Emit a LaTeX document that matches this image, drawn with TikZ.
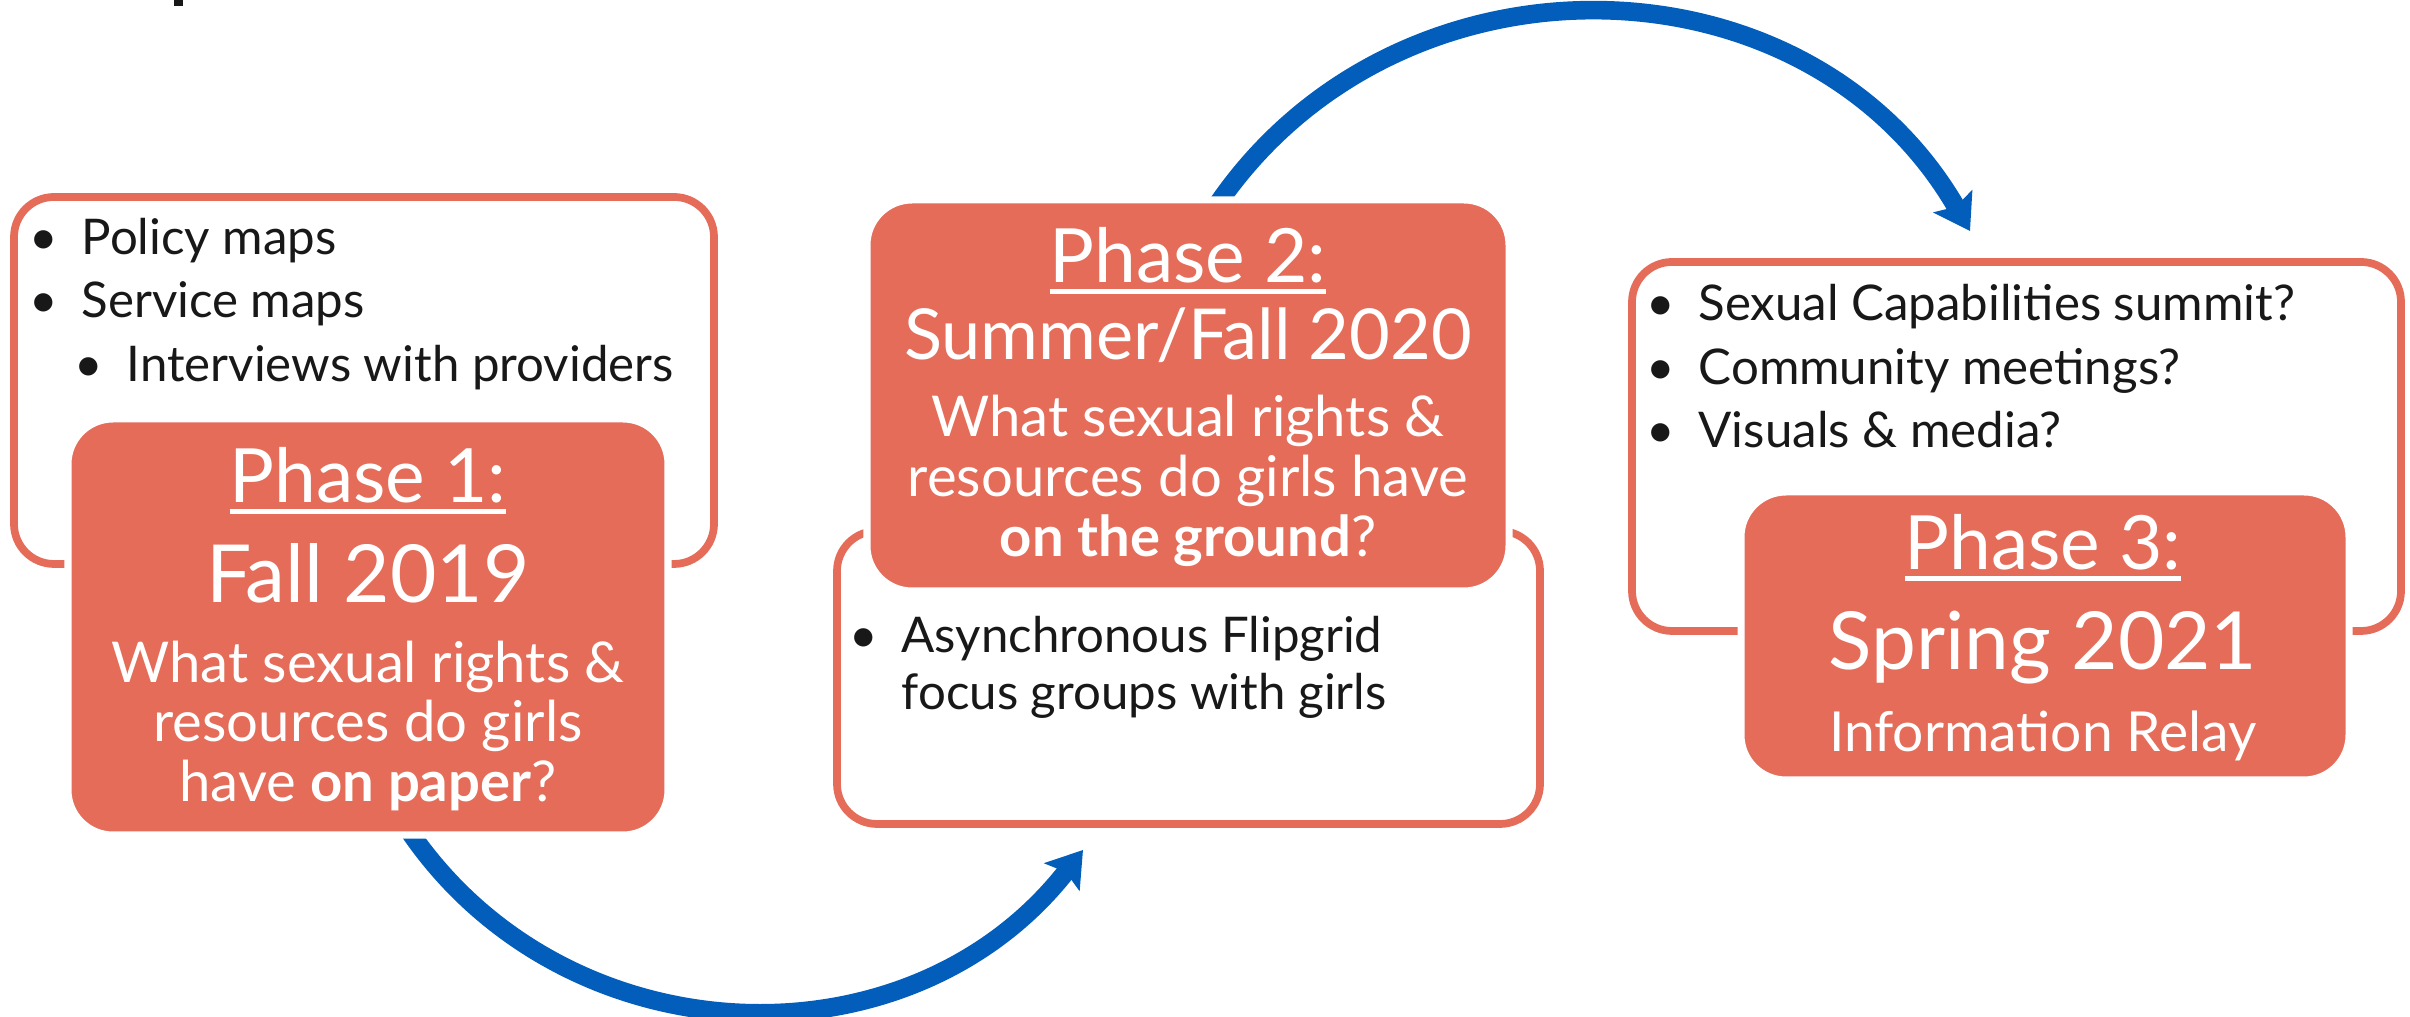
\documentclass[tikz,border=0pt]{standalone}
\usepackage{fontspec}
\setmainfont{Lato}
\usetikzlibrary{arrows.meta, positioning, calc, backgrounds}
\definecolor{phasered}{RGB}{228, 108, 89}
\definecolor{flowblue}{RGB}{2, 94, 186}
\definecolor{inkblack}{RGB}{24, 24, 24}

\newcommand{\phaseul}[1]{\vtop{\hbox{#1}\kern1.6pt\hrule height 1.4pt}}
\newcommand{\bdot}{\makebox[0.52cm][l]{\textbullet}}

\begin{document}
\begin{tikzpicture}[
    infobox/.style={draw=phasered, line width=2.2pt, rounded corners=0.4cm, fill=white},
    phasebox/.style={draw=white, line width=2pt, fill=phasered, rounded corners=0.45cm},
    phasetitle/.style={anchor=base, text=white, inner sep=0pt, font=\fontsize{21.3}{25}\selectfont},
    phaseyear/.style={anchor=base, text=white, inner sep=0pt, font=\fontsize{22.8}{27}\selectfont},
    question/.style={anchor=base, text=white, inner sep=0pt, font=\fontsize{16}{19}\selectfont},
    bulletline/.style={anchor=base west, text=inkblack, inner sep=0pt, font=\fontsize{14}{17}\selectfont},
    flow/.style={line width=5.3pt, draw=flowblue, -{Stealth[length=0.34cm, width=0.44cm, inset=0.06cm]}}
]
\useasboundingbox (0,0) rectangle (24.10,10.17);

% clipped heading
\fill[inkblack] (1.74,10.11) rectangle (1.83,10.17);

% Info boxes
\node (box1) [infobox, minimum width=7.00cm, minimum height=3.67cm] at (3.64,6.365) {};
\node (box2) [infobox, minimum width=7.03cm, minimum height=2.93cm] at (11.885,3.395) {};
\node (box3) [infobox, minimum width=7.69cm, minimum height=3.69cm] at (20.165,5.705) {};

% Phase boxes
\node (phase1) [phasebox, minimum width=6.00cm, minimum height=4.16cm] at (3.68,3.90) {};
\node (phase2) [phasebox, minimum width=6.42cm, minimum height=3.91cm] at (11.88,6.215) {};
\node (phase3) [phasebox, minimum width=6.08cm, minimum height=2.88cm] at (20.45,3.81) {};

% Phase 1
\node (title1) [phasetitle] at (3.68,5.14) {\phaseul{Phase 1:}};
\node (year1) [phaseyear] at (3.68,4.14) {Fall 2019};
\node (q1a) [question] at (3.68,3.34) {What sexual rights \&};
\node (q1b) [question] at (3.68,2.75) {resources do girls};
\node (q1c) [question] at (3.68,2.15) {have \textbf{on paper}?};

\node (pol) [bulletline] at (0.29,7.62) {\bdot Policy maps};
\node (serv) [bulletline] at (0.29,6.99) {\bdot Service maps};
\node (intv) [bulletline] at (0.74,6.35) {\bdot Interviews with providers};

% Phase 2
\node (title2) [phasetitle] at (11.88,7.34) {\phaseul{Phase 2:}};
\node (year2) [phaseyear, font=\fontsize{20}{24}\selectfont] at (11.88,6.57) {Summer/Fall 2020};
\node (q2a) [question] at (11.88,5.80) {What sexual rights \&};
\node (q2b) [question] at (11.88,5.20) {resources do girls have};
\node (q2c) [question] at (11.88,4.60) {\textbf{on the ground}?};

\node (flip) [bulletline] at (8.49,3.64) {\bdot Asynchronous Flipgrid};
\node (focus) [bulletline] at (9.01,3.07) {focus groups with girls};

% Phase 3
\node (title3) [phasetitle] at (20.43,4.47) {\phaseul{Phase 3:}};
\node (year3) [phaseyear] at (20.43,3.47) {Spring 2021};
\node (relay) [question, font=\fontsize{15.7}{19}\selectfont] at (20.43,2.65) {Information Relay};

\node (summit) [bulletline] at (16.46,6.96) {\bdot Sexual Capabilities summit?};
\node (comm) [bulletline] at (16.46,6.32) {\bdot Community meetings?};
\node (vis) [bulletline] at (16.46,5.69) {\bdot Visuals \& media?};

% Arrows
\coordinate (tip1) at (10.83,1.67);
\coordinate (tip2) at (19.70,7.86);
\begin{scope}[on background layer]
\draw [flow] ($(phase1.south)+(0.28,0.28)$) to[out=-59, in=-128, looseness=1.08] (tip1);
\draw [flow] ($(phase2.north)+(0.17,-0.27)$) to[out=58.5, in=120, looseness=1.11] (tip2);
\end{scope}

\end{tikzpicture}
\end{document}
